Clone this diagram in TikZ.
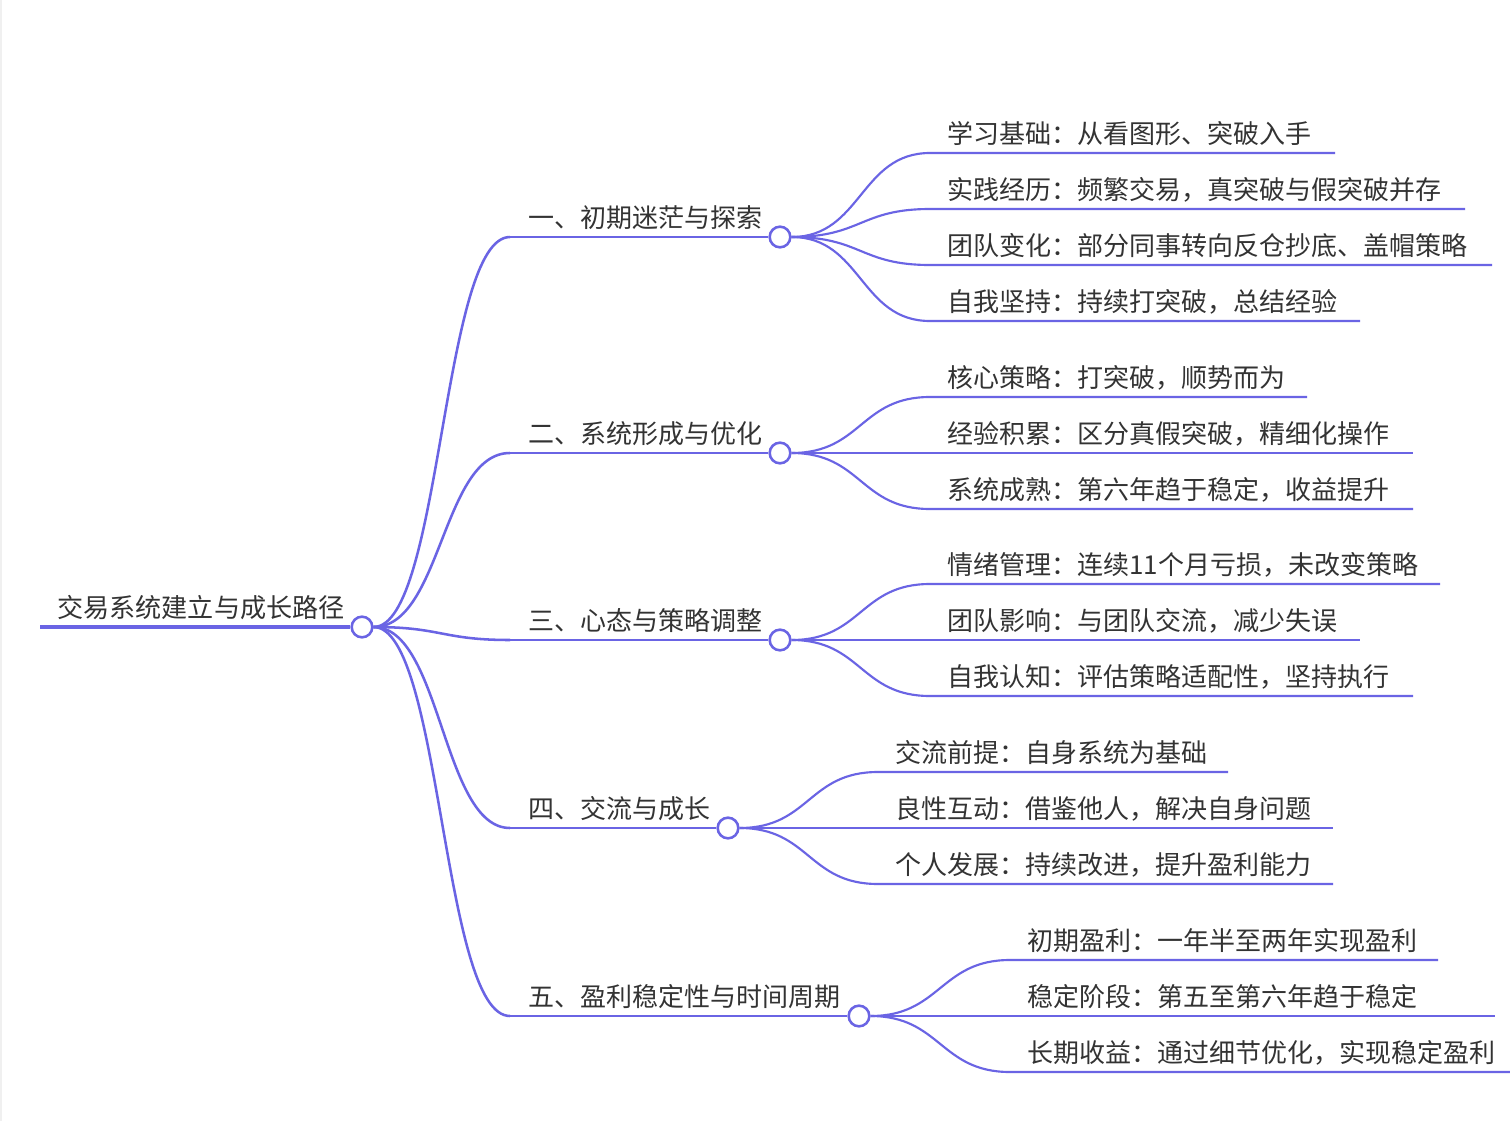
\documentclass[tikz,border=0pt]{standalone}
\usepackage{fontspec}
\setmainfont{Noto Sans CJK SC}
\definecolor{mm}{HTML}{6A64E4}
\definecolor{tx}{HTML}{333333}
\tikzset{
  conn/.style={draw=mm, line width=1.9pt},
  rootline/.style={draw=mm, line width=2.3pt},
  leafline/.style={draw=mm, line width=1.6pt},
  dot/.style={circle, draw=mm, fill=white, line width=1.9pt, inner sep=0pt, minimum size=15.5pt},
  rtext/.style={anchor=west, text=tx, inner sep=0pt, font=\fontsize{19.6pt}{22pt}\selectfont},
  btext/.style={anchor=west, text=tx, inner sep=0pt, font=\fontsize{19.5pt}{22pt}\selectfont},
}
\begin{document}
\begin{tikzpicture}[x=0.75pt,y=-0.75pt]
\useasboundingbox[fill=white] (0,0) rectangle (1510,1121);
\draw[draw=black!6, line width=1pt] (1,0) -- (1,1121);

% root
\coordinate (r0) at (40,627);
\node[dot] (r) at (362,627) {};
\draw[rootline] (r0) -- (r.west);
\node[rtext] (rt) at (57,608) {交易系统建立与成长路径};

% branch starts
\coordinate (b1s) at (510,237);
\coordinate (b2s) at (510,453);
\coordinate (b3s) at (510,640);
\coordinate (b4s) at (510,828);
\coordinate (b5s) at (510,1016);
\node[dot] (b1) at (780,237) {};
\node[dot] (b2) at (780,453) {};
\node[dot] (b3) at (780,640) {};
\node[dot] (b4) at (728,828) {};
\node[dot] (b5) at (859,1016) {};
\foreach \i in {1,...,5}{
  \draw[conn] (r.east) .. controls +(68,0) and +(-68,0) .. (b\i s);
  \draw[conn] (b\i s) -- (b\i.west);
}
\node[btext] (b1t) at (528,218) {一、初期迷茫与探索};
\node[btext] (b2t) at (528,434) {二、系统形成与优化};
\node[btext] (b3t) at (528,621) {三、心态与策略调整};
\node[btext] (b4t) at (528,809) {四、交流与成长};
\node[btext] (b5t) at (528,997) {五、盈利稳定性与时间周期};

% leaves of branch 1
\coordinate (l11s) at (930,153); \coordinate (l11e) at (1335,153);
\coordinate (l12s) at (930,209); \coordinate (l12e) at (1465,209);
\coordinate (l13s) at (930,265); \coordinate (l13e) at (1492,265);
\coordinate (l14s) at (930,321); \coordinate (l14e) at (1360,321);
\foreach \j in {1,...,4}{
  \draw[leafline] (b1.east) .. controls +(70,0) and +(-70,0) .. (l1\j s) -- (l1\j e);
}
\node[btext] (l11t) at (947,134) {学习基础：从看图形、突破入手};
\node[btext] (l12t) at (947,190) {实践经历：频繁交易，真突破与假突破并存};
\node[btext] (l13t) at (947,246) {团队变化：部分同事转向反仓抄底、盖帽策略};
\node[btext] (l14t) at (947,302) {自我坚持：持续打突破，总结经验};

% leaves of branch 2
\coordinate (l21s) at (930,397); \coordinate (l21e) at (1307,397);
\coordinate (l22s) at (930,453); \coordinate (l22e) at (1413,453);
\coordinate (l23s) at (930,509); \coordinate (l23e) at (1413,509);
\foreach \j in {1,...,3}{
  \draw[leafline] (b2.east) .. controls +(70,0) and +(-70,0) .. (l2\j s) -- (l2\j e);
}
\node[btext] (l21t) at (947,378) {核心策略：打突破，顺势而为};
\node[btext] (l22t) at (947,434) {经验积累：区分真假突破，精细化操作};
\node[btext] (l23t) at (947,490) {系统成熟：第六年趋于稳定，收益提升};

% leaves of branch 3
\coordinate (l31s) at (930,584); \coordinate (l31e) at (1440,584);
\coordinate (l32s) at (930,640); \coordinate (l32e) at (1360,640);
\coordinate (l33s) at (930,696); \coordinate (l33e) at (1413,696);
\foreach \j in {1,...,3}{
  \draw[leafline] (b3.east) .. controls +(70,0) and +(-70,0) .. (l3\j s) -- (l3\j e);
}
\node[btext] (l31t) at (947,565) {情绪管理：连续11个月亏损，未改变策略};
\node[btext] (l32t) at (947,621) {团队影响：与团队交流，减少失误};
\node[btext] (l33t) at (947,677) {自我认知：评估策略适配性，坚持执行};

% leaves of branch 4
\coordinate (l41s) at (878,772); \coordinate (l41e) at (1228,772);
\coordinate (l42s) at (878,828); \coordinate (l42e) at (1333,828);
\coordinate (l43s) at (878,884); \coordinate (l43e) at (1333,884);
\foreach \j in {1,...,3}{
  \draw[leafline] (b4.east) .. controls +(70,0) and +(-70,0) .. (l4\j s) -- (l4\j e);
}
\node[btext] (l41t) at (895,753) {交流前提：自身系统为基础};
\node[btext] (l42t) at (895,809) {良性互动：借鉴他人，解决自身问题};
\node[btext] (l43t) at (895,865) {个人发展：持续改进，提升盈利能力};

% leaves of branch 5
\coordinate (l51s) at (1010,960); \coordinate (l51e) at (1438,960);
\coordinate (l52s) at (1010,1016); \coordinate (l52e) at (1495,1016);
\coordinate (l53s) at (1010,1072); \coordinate (l53e) at (1510,1072);
\foreach \j in {1,...,3}{
  \draw[leafline] (b5.east) .. controls +(70,0) and +(-70,0) .. (l5\j s) -- (l5\j e);
}
\node[btext] (l51t) at (1027,941) {初期盈利：一年半至两年实现盈利};
\node[btext] (l52t) at (1027,997) {稳定阶段：第五至第六年趋于稳定};
\node[btext] (l53t) at (1027,1053) {长期收益：通过细节优化，实现稳定盈利};
\end{tikzpicture}
\end{document}
